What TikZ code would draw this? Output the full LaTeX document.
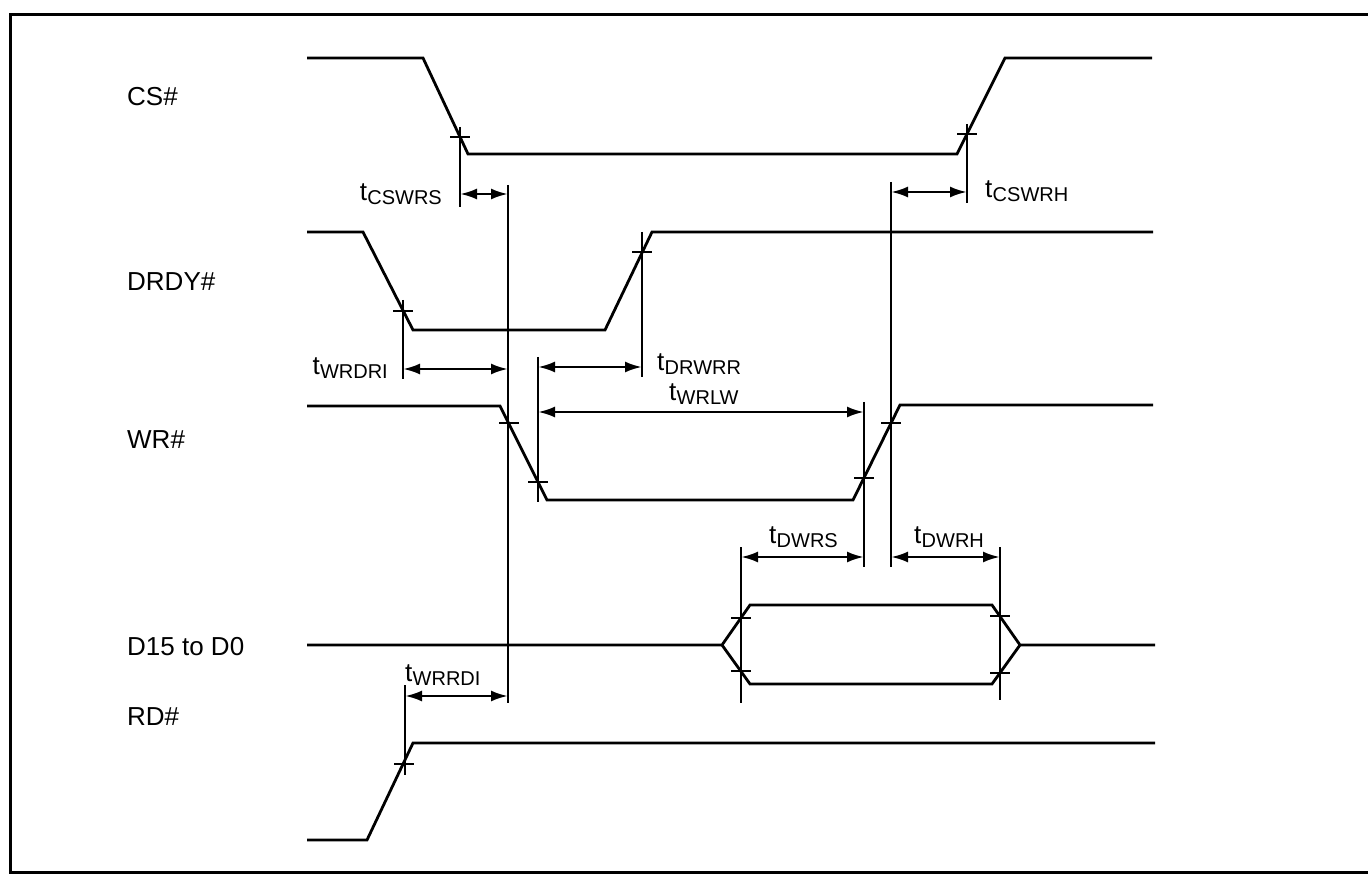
\documentclass[tikz,border=0pt]{standalone}
\usepackage{fontspec}
\setmainfont{Liberation Sans}
\usetikzlibrary{arrows.meta}
\newcommand{\subsz}{\fontsize{20}{20}\selectfont}
\newcommand{\tsig}[1]{t\kern0.3pt\raisebox{-4pt}{\subsz #1}}
\tikzset{
  sig/.style={line width=2.8pt, line join=miter},
  vline/.style={line width=2.4pt},
  tick/.style={line width=2.8pt},
  dim/.style={line width=2.6pt, {Latex[length=17pt,width=11pt]}-{Latex[length=17pt,width=11pt]}},
  lab/.style={inner sep=0pt, font=\fontsize{26}{30}\selectfont},
  tlab/.style={inner sep=0pt, font=\fontsize{26}{30}\selectfont}
}
\begin{document}
\begin{tikzpicture}[x=1pt,y=-1pt]
\useasboundingbox (0,0) rectangle (1368,874);
% border
\draw[line width=3pt] (1372,15) -- (10,15) -- (10,872) -- (1372,872);

% signal labels
\node[lab,anchor=west] (lcs) at (127,97) {CS\#};
\node[lab,anchor=west] (ldrdy) at (127,282) {DRDY\#};
\node[lab,anchor=west] (lwr) at (127,440) {WR\#};
\node[lab,anchor=west] (ld) at (127,647) {D15 to D0};
\node[lab,anchor=west] (lrd) at (127,717) {RD\#};

% waveforms
\draw[sig] (307,58) -- (423,58) -- (468,154) -- (957,154) -- (1005,58) -- (1152,58);
\draw[sig] (307,232) -- (363,232) -- (413,330) -- (605,330) -- (652,232) -- (1153,232);
\draw[sig] (307,406) -- (500,406) -- (547,500) -- (853,500) -- (900,405) -- (1153,405);
\draw[sig] (307,645) -- (722,645) -- (750,605) -- (992,605) -- (1020,645) -- (1155,645);
\draw[sig] (722,645) -- (750,684) -- (992,684) -- (1020,645);
\draw[sig] (307,840) -- (367,840) -- (413,743) -- (1155,743);

% reference coordinates
\coordinate (a1) at (460,127); \coordinate (a2) at (460,207);
\coordinate (b1) at (508,185); \coordinate (b2) at (508,703);
\coordinate (c1) at (967,124); \coordinate (c2) at (967,203);
\coordinate (d1) at (891,182); \coordinate (d2) at (891,567);
\coordinate (e1) at (403,300); \coordinate (e2) at (403,379);
\coordinate (f1) at (642,232); \coordinate (f2) at (642,377);
\coordinate (g1) at (538,357); \coordinate (g2) at (538,502);
\coordinate (h1) at (864,402); \coordinate (h2) at (864,567);
\coordinate (i1) at (741,547); \coordinate (i2) at (741,703);
\coordinate (j1) at (1000,547); \coordinate (j2) at (1000,700);
\coordinate (k1) at (405,685); \coordinate (k2) at (405,775);

\foreach \p in {a,b,c,d,e,f,g,h,i,j,k} \draw[vline] (\p1) -- (\p2);

% cross ticks
\foreach \x/\y in {460/137, 967/134, 403/311, 642/252, 509/423, 538/482, 864/478, 891/423,
                   741/618, 741/671, 1000/616, 1000/673, 404/764}
  \draw[tick] (\x-10,\y) -- (\x+10,\y);

% dimension arrows
\draw[dim] (a2 |- 0,194) -- (b1 |- 0,194);
\draw[dim] (d1 |- 0,192) -- (c1 |- 0,192);
\draw[dim] (e1 |- 0,369) -- (b1 |- 0,369);
\draw[dim] (g1 |- 0,367) -- (f1 |- 0,367);
\draw[dim] (g1 |- 0,412) -- (h1 |- 0,412);
\draw[dim] (i1 |- 0,557) -- (h1 |- 0,557);
\draw[dim] (d1 |- 0,557) -- (j1 |- 0,557);
\draw[dim] (k1 |- 0,696) -- (b1 |- 0,696);

% timing labels
\node[tlab,anchor=east] (tcswrs) at (442,194) {\tsig{CSWRS}};
\node[tlab,anchor=west] (tcswrh) at (985,191) {\tsig{CSWRH}};
\node[tlab,anchor=east] (twrdri) at (388,368) {\tsig{WRDRI}};
\node[tlab,anchor=west] (tdrwrr) at (657,364) {\tsig{DRWRR}};
\node[tlab,anchor=west] (twrlw) at (669,394) {\tsig{WRLW}};
\node[tlab,anchor=west] (tdwrs) at (769,537) {\tsig{DWRS}};
\node[tlab,anchor=west] (tdwrh) at (914,537) {\tsig{DWRH}};
\node[tlab,anchor=west] (twrrdi) at (405,675) {\tsig{WRRDI}};
\end{tikzpicture}
\end{document}
